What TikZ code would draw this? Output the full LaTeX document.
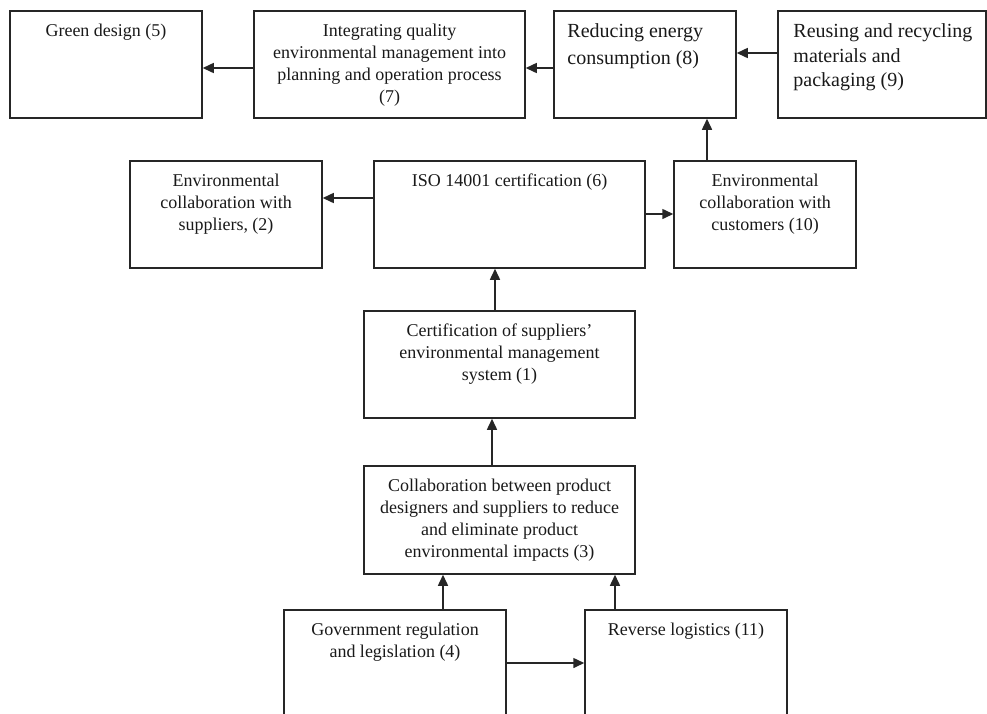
\documentclass[tikz,border=0pt]{standalone}
\usepackage{fontspec}
\setmainfont{Liberation Serif}
\usetikzlibrary{arrows.meta}

\tikzset{
  box/.style={draw=black!85, line width=1.5pt, rectangle, inner sep=0pt},
  txt/.style={inner sep=0pt, align=center, text=black!90, anchor=base,
              font=\fontsize{18}{22}\selectfont},
  bigtxt/.style={inner sep=0pt, align=left, text=black!90, anchor=base west},
  arr/.style={draw=black!85, line width=1.5pt,
              -{Triangle[length=11pt,width=10pt]}},
}

% place a box from its corner coordinates (x1,y1) to (x2,y2)
\newcommand{\mybox}[5]{%
  \node[box, minimum width={(#4)-(#2)}, minimum height={(#5)-(#3)}]
    (#1) at ({((#2)+(#4))/2},{((#3)+(#5))/2}) {};}

\begin{document}
\begin{tikzpicture}[x=1pt, y=-1pt]
  \useasboundingbox (0,0) rectangle (987,713);
  \clip (0,0) rectangle (987,713);

  % boxes
  \mybox{g5}{10}{11}{202}{118}
  \mybox{q7}{254}{11}{525}{118}
  \mybox{e8}{554}{11}{736}{118}
  \mybox{r9}{778}{11}{986}{118}
  \mybox{s2}{130}{161}{322}{268}
  \mybox{iso6}{374}{161}{645}{268}
  \mybox{c10}{674}{161}{856}{268}
  \mybox{c1}{364}{311}{635}{418}
  \mybox{c3}{364}{466}{635}{574}
  \mybox{g4}{284}{610}{506}{740}
  \mybox{rl11}{585}{610}{787}{740}

  % texts (anchored at the baseline of their last line)
  \node[txt] (t5) at ([yshift=-26pt]g5.north) {Green design (5)};
  \node[txt] (t7) at ([yshift=-92pt]q7.north)
    {Integrating quality\\environmental management into\\planning and operation process\\(7)};
  \node[bigtxt, font=\fontsize{20}{27}\selectfont] (t8) at ([xshift=14pt,yshift=-54.5pt]e8.north west)
    {Reducing energy\\consumption (8)};
  \node[bigtxt, font=\fontsize{20}{24.5}\selectfont] (t9) at ([xshift=16pt,yshift=-76.5pt]r9.north west)
    {Reusing and recycling\\materials and\\packaging (9)};
  \node[txt] (t2) at ([yshift=-70pt]s2.north)
    {Environmental\\collaboration with\\suppliers, (2)};
  \node[txt] (t6) at ([yshift=-26pt]iso6.north) {ISO 14001 certification (6)};
  \node[txt] (t10) at ([yshift=-70pt]c10.north)
    {Environmental\\collaboration with\\customers (10)};
  \node[txt] (t1) at ([yshift=-70pt]c1.north)
    {Certification of suppliers'\\environmental management\\system (1)};
  \node[txt] (t3) at ([yshift=-92pt]c3.north)
    {Collaboration between product\\designers and suppliers to reduce\\and eliminate product\\environmental impacts (3)};
  \node[txt] (t4) at ([yshift=-48pt]g4.north)
    {Government regulation\\and legislation (4)};
  \node[txt] (t11) at ([yshift=-26pt]rl11.north) {Reverse logistics (11)};

  % connectors
  \draw[arr] ([yshift=-3.5pt]q7.west) -- ([yshift=-3.5pt]g5.east);
  \draw[arr] ([yshift=-3.5pt]e8.west) -- ([yshift=-3.5pt]q7.east);
  \draw[arr] ([yshift=11.5pt]r9.west) -- ([yshift=11.5pt]e8.east);
  \draw[arr] ([xshift=-58pt]c10.north) -- ([xshift=-58pt]c10.north |- e8.south);
  \draw[arr] ([yshift=16.5pt]iso6.west) -- ([yshift=16.5pt]s2.east);
  \draw[arr] ([yshift=0.5pt]iso6.east) -- ([yshift=0.5pt]c10.west);
  \draw[arr] ([xshift=-4.5pt]c1.north) -- ([xshift=-4.5pt]c1.north |- iso6.south);
  \draw[arr] ([xshift=-7.5pt]c3.north) -- ([xshift=-7.5pt]c3.north |- c1.south);
  \draw[arr] ([xshift=48pt]g4.north) -- ([xshift=48pt]g4.north |- c3.south);
  \draw[arr] ([xshift=-71pt]rl11.north) -- ([xshift=-71pt]rl11.north |- c3.south);
  \draw[arr] ([yshift=12pt]g4.east) -- ([yshift=12pt]rl11.west);
\end{tikzpicture}
\end{document}
